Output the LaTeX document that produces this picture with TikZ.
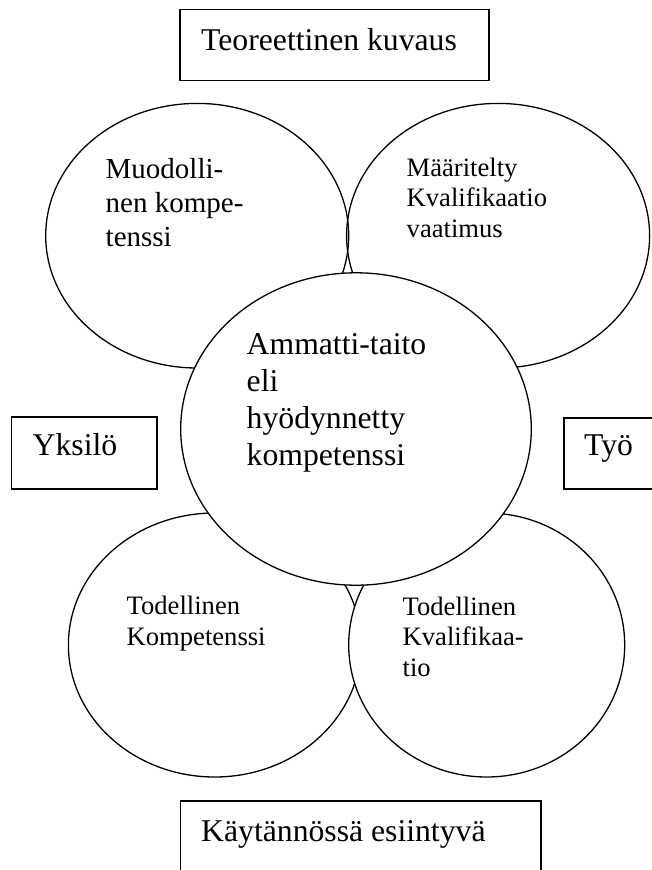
\documentclass[tikz,border=0pt]{standalone}
\usepackage{fontspec}
\setmainfont{Liberation Serif}
\usetikzlibrary{shapes.geometric}
\begin{document}
\begin{tikzpicture}[x=1pt,y=-1pt,
  blob/.style={ellipse, draw, line width=1.3pt, inner sep=0pt},
  frame/.style={rectangle, draw, line width=1.5pt, inner sep=0pt},
  openframe/.style={line width=1.5pt},
  lbl/.style={anchor=base west, inner sep=0pt, align=left},
  big/.style={font=\fontsize{31.7}{36.7}\selectfont},
  mid/.style={font=\fontsize{29}{34}\selectfont},
  small/.style={font=\fontsize{26.6}{30.3}\selectfont}]
\useasboundingbox (0,0) rectangle (651,870);

% boxes
\node[frame, minimum width=309, minimum height=71.4] (topbox) at (334.5,45) {};
\node[lbl, big] (toptxt) at (201,50) {Teoreettinen kuvaus};

\node[frame, minimum width=145.4, minimum height=72] (leftbox) at (84.3,453) {};
\node[lbl, big] (lefttxt) at (32.5,455) {Yksilö};

\coordinate (r1) at (653,418);
\coordinate (r2) at (564,418);
\coordinate (r3) at (564,489);
\coordinate (r4) at (653,489);
\draw[openframe] (r1) -- (r2) -- (r3) -- (r4);
\node[lbl, big] (righttxt) at (584,455) {Työ};

\coordinate (b1) at (180.6,872);
\coordinate (b2) at (180.6,801);
\coordinate (b3) at (541,801);
\coordinate (b4) at (541,872);
\draw[openframe] (b1) -- (b2) -- (b3) -- (b4);
\node[lbl, big] (bottxt) at (201,841.7) {Käytännössä esiintyvä};

% ellipses
\node[blob, minimum width=292.6, minimum height=264] (bl) at (214.7,645) {};
\node[blob, fill=white, minimum width=276, minimum height=264] (br) at (486.7,645) {};
\node[blob, minimum width=303, minimum height=264.6] (tl) at (197.2,235.7) {};
\node[blob, minimum width=303, minimum height=264.6] (tr) at (498.1,235.7) {};
\node[blob, fill=white, minimum width=350.6, minimum height=312.4] (ct) at (356,429) {};

% texts in ellipses (base anchor = last line's baseline)
\node[lbl, mid] (tltxt) at (105.5,246) {Muodolli-\\nen kompe-\\tenssi};
\node[lbl, small] (trtxt) at (406.5,237) {Määritelty\\Kvalifikaatio\\vaatimus};
\node[lbl, big] (cttxt) at (246.5,465) {Ammatti-taito\\eli\\hyödynnetty\\kompetenssi};
\node[lbl, small] (bltxt) at (126.5,645) {Todellinen\\Kompetenssi};
\node[lbl, small] (brtxt) at (402.5,676) {Todellinen\\Kvalifikaa-\\tio};
\end{tikzpicture}
\end{document}
